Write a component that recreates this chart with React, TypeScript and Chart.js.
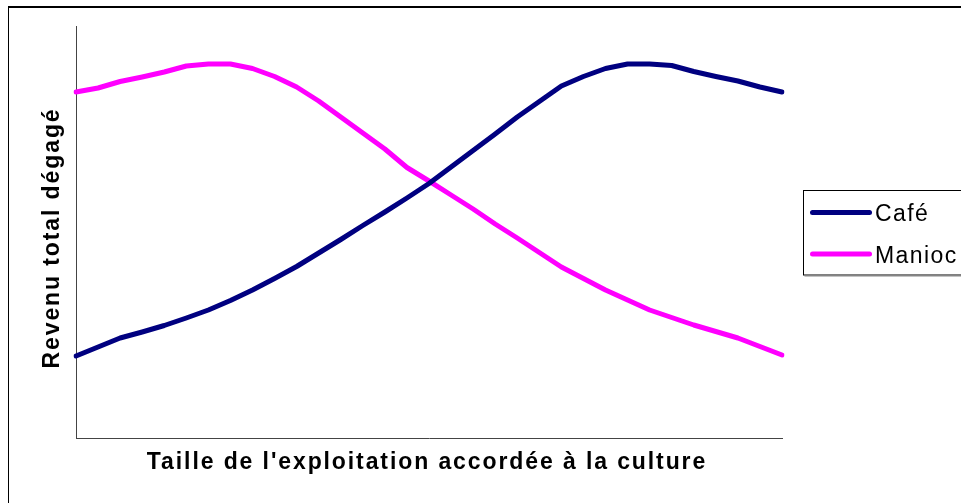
import React, { useEffect, useRef } from "react";
import { Chart, registerables } from "chart.js";

Chart.register(...registerables);

// Farm size steps (no tick labels shown on the chart)
const categories = [
  "1", "2", "3", "4", "5", "6", "7", "8", "9", "10", "11",
  "12", "13", "14", "15", "16", "17", "18", "19", "20", "21", "22",
  "23", "24", "25", "26", "27", "28", "29", "30", "31", "32", "33",
];

// Total revenue (arbitrary units, axis 0–412)
const cafeValues = [
  82, 91, 100, 106, 112.5, 120, 128, 137.5, 148, 159.5, 171.5,
  185, 198.5, 212.5, 226, 240, 254.5, 271, 287.5, 304, 321, 336.5,
  352, 361.5, 369.5, 374, 374, 372.5, 366.5, 361.5, 357, 351, 346,
];
const maniocValues = [
  346, 350, 356.5, 361, 366, 372, 374, 374, 369.5, 361.5, 351,
  337, 321, 305, 289, 270.5, 257, 243, 229, 214, 200, 185.5,
  171, 159.5, 148, 138, 128, 120.5, 113, 106.5, 100, 91.5, 83,
];

const seriesLabels = ["Café", "Manioc"];
const seriesColors = ["#000080", "#FF00FF"];
const xTitle = "Taille de l'exploitation accordée à la culture";
const yTitle = "Revenu total dégagé";

const FONT = '"Liberation Sans", Arial, sans-serif';

const decorPlugin = {
  id: "decor",
  afterDraw(chart: any) {
    const ctx: CanvasRenderingContext2D = chart.ctx;
    const area = chart.chartArea;
    ctx.save();
    ctx.fillStyle = "#000";
    // axis titles
    ctx.font = `bold 23px ${FONT}`;
    (ctx as any).letterSpacing = "1.9px";
    ctx.textAlign = "center";
    ctx.textBaseline = "alphabetic";
    ctx.fillText(xTitle, (area.left + area.right) / 2 - 2, area.bottom + 30.5);
    ctx.save();
    ctx.translate(59, (area.top + area.bottom) / 2 + 6);
    ctx.rotate(-Math.PI / 2);
    ctx.fillText(yTitle, 0, 0);
    ctx.restore();

    // legend box
    const lx = area.right + 21.5;
    const ly = 190.5;
    const lh = 84.5;
    ctx.strokeStyle = "#000";
    ctx.lineWidth = 1;
    ctx.strokeRect(lx, ly, 300, lh);
    ctx.strokeStyle = "#888";
    ctx.beginPath();
    ctx.moveTo(lx + 1, ly + lh + 1);
    ctx.lineTo(lx + 300, ly + lh + 1);
    ctx.stroke();

    const rows = [212.5, 254];
    const baselines = [221, 262.5];
    ctx.font = `23px ${FONT}`;
    (ctx as any).letterSpacing = "1.4px";
    ctx.textAlign = "left";
    chart.data.datasets.forEach((ds: any, i: number) => {
      ctx.strokeStyle = ds.borderColor;
      ctx.lineWidth = 5;
      ctx.lineCap = "round";
      ctx.beginPath();
      ctx.moveTo(lx + 9, rows[i]);
      ctx.lineTo(lx + 66, rows[i]);
      ctx.stroke();
      ctx.fillStyle = "#000";
      ctx.fillText(ds.label, lx + 71.5, baselines[i]);
    });
    ctx.restore();
  },
};

export default function App() {
  const ref = useRef<HTMLCanvasElement>(null);

  useEffect(() => {
    if (!ref.current) return;
    const chart = new Chart(ref.current, {
      type: "line",
      data: {
        labels: categories,
        datasets: [
          {
            label: seriesLabels[0],
            data: cafeValues,
            borderColor: seriesColors[0],
            backgroundColor: seriesColors[0],
            borderWidth: 5,
            pointRadius: 0,
            tension: 0,
            borderCapStyle: "round",
            borderJoinStyle: "round",
          },
          {
            label: seriesLabels[1],
            data: maniocValues,
            borderColor: seriesColors[1],
            backgroundColor: seriesColors[1],
            borderWidth: 5,
            pointRadius: 0,
            tension: 0,
            borderCapStyle: "round",
            borderJoinStyle: "round",
          },
        ],
      },
      options: {
        animation: false,
        responsive: false,
        devicePixelRatio: 1,
        layout: { padding: { left: 76, top: 26, right: 179, bottom: 65 } },
        plugins: {
          legend: { display: false },
          tooltip: { enabled: false },
          title: { display: false },
        },
        scales: {
          x: {
            type: "category",
            offset: false,
            ticks: { display: false },
            grid: { display: false, drawTicks: false },
            border: { display: true, color: "#444", width: 1 },
          },
          y: {
            min: 0,
            max: 412,
            ticks: { display: false },
            grid: { display: false, drawTicks: false },
            border: { display: true, color: "#444", width: 1 },
          },
        },
      },
      plugins: [decorPlugin],
    });
    return () => chart.destroy();
  }, []);

  return (
    <div
      style={{
        position: "fixed",
        left: 0,
        top: 0,
        width: 961,
        height: 503,
        overflow: "hidden",
        background: "#fff",
      }}
    >
      <canvas
        ref={ref}
        width={961}
        height={503}
        style={{ position: "absolute", left: 0, top: 0, width: 961, height: 503 }}
      />
      <div
        style={{
          position: "absolute",
          left: 8,
          top: 6,
          width: 1100,
          height: 700,
          borderTop: "2px solid #000",
          borderLeft: "1px solid #000",
          pointerEvents: "none",
        }}
      />
    </div>
  );
}
